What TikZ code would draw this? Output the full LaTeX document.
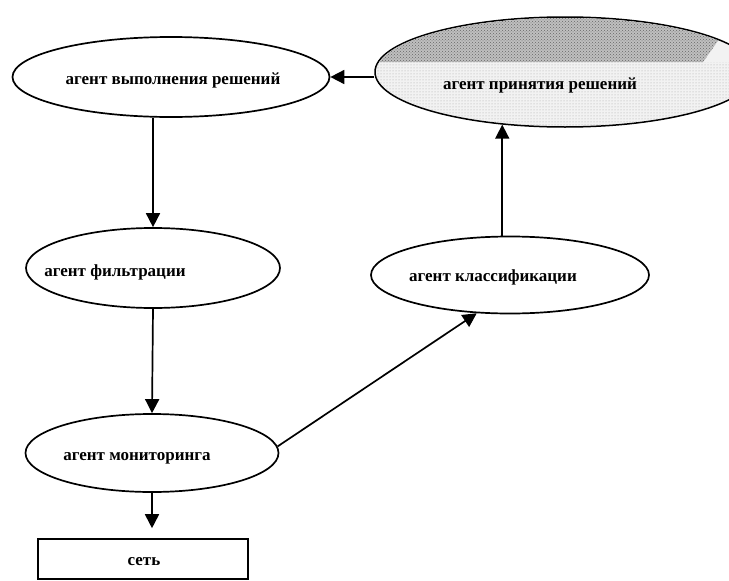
\documentclass[tikz,border=0pt]{standalone}
\usepackage{fontspec}
\setmainfont{Liberation Serif}
\usetikzlibrary{arrows.meta,shapes.geometric,patterns}

\begin{document}
\begin{tikzpicture}[x=1pt,y=-1pt,
agent/.style={draw,ellipse,line width=1.7pt,inner sep=0pt},
caption/.style={inner sep=0pt,font=\fontsize{17}{19}\selectfont\bfseries},
flow/.style={line width=1.7pt,-{Triangle[length=14pt,width=14pt]}}]
\useasboundingbox (0,0) rectangle (729,581);

\node (exec) [agent, minimum width=317pt, minimum height=80pt] at (171,77) {};
\node (exectext) [caption] at (173,80) {агент выполнения решений};
\node (filter) [agent, minimum width=254pt, minimum height=80pt] at (153,268) {};
\node (filtertext) [caption] at (115,272) {агент фильтрации};
\node (monitor) [agent, minimum width=253pt, minimum height=78pt] at (152,453) {};
\node (monitortext) [caption] at (137,458) {агент мониторинга};
\node (net) [draw, line width=1.6pt, minimum width=210pt, minimum height=40pt, inner sep=0pt] at (143,559) {};
\node (nettext) [caption] at (144,562) {сеть};
\node (classif) [agent, minimum width=278pt, minimum height=77pt] at (510,275) {};
\node (classiftext) [caption] at (493,277) {агент классификации};

\begin{scope}
\clip (0,0) rectangle (729,581);
\node (decision) [ellipse, draw, line width=1.5pt, fill=gray!10, minimum width=380pt, minimum height=110pt] at (565,72) {};
\clip (decision.center) ellipse [x radius=189pt, y radius=54pt];
\fill[pattern=dots, pattern color=gray!70] (360,62) rectangle (729,140);
\fill[gray!50] (370,0) -- (729,0) -- (727,28) -- (703,62) -- (370,62) -- cycle;
\fill[pattern=crosshatch dots, pattern color=black!60] (370,0) -- (729,0) -- (727,28) -- (703,62) -- (370,62) -- cycle;
\end{scope}
\node (decisiontext) [caption] at (540,85) {агент принятия решений};

\draw[flow] (decision.west |- exec.east) -- (exec.east);
\draw[flow] (filter.north |- exec.south) -- (filter.north);
\draw[flow] (filter.south) -- (monitor.north);
\draw[flow, shorten >=10pt] (monitor.south) -- (monitor.south |- net.north);
\draw[flow] (monitor.3) -- (classif.-131);
\draw[flow] (classif.north -| decision.-140) -- (decision.-140);
\end{tikzpicture}
\end{document}
